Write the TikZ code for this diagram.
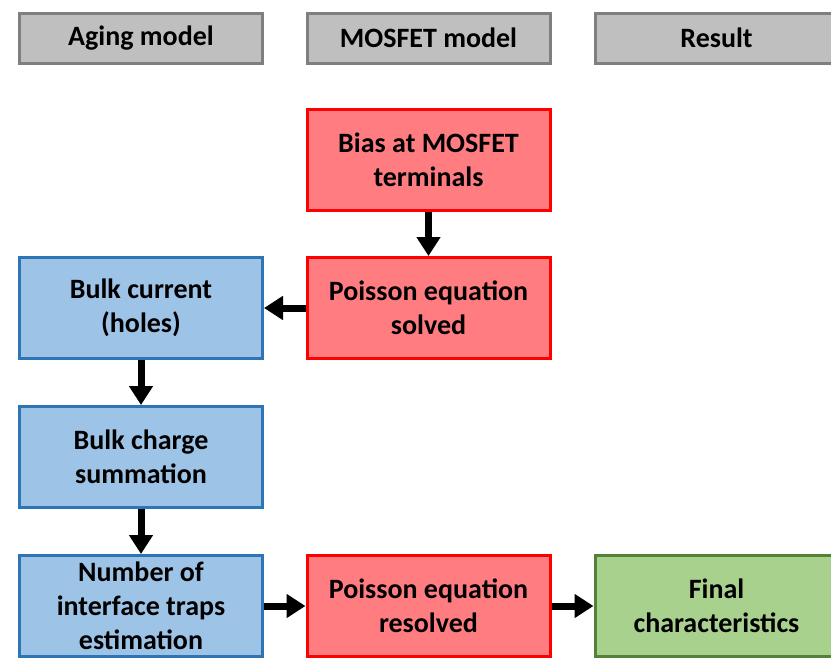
\documentclass[tikz,border=0pt]{standalone}
\usepackage{fontspec}
\setmainfont{Carlito}
\usetikzlibrary{arrows.meta}
\definecolor{hdrfill}{HTML}{BFBFBF}
\definecolor{hdrline}{HTML}{7F7F7F}
\definecolor{redfill}{HTML}{FF7C80}
\definecolor{redline}{HTML}{FF0000}
\definecolor{bluefill}{HTML}{9DC3E6}
\definecolor{blueline}{HTML}{2E75B6}
\definecolor{greenfill}{HTML}{A9D18E}
\definecolor{greenline}{HTML}{538135}
\tikzset{
  box/.style={rectangle, line width=3pt, minimum width=243pt, minimum height=101pt,
    align=center, font=\fontsize{28}{34}\selectfont\bfseries, inner sep=0pt},
  hdr/.style={box, draw=hdrline, fill=hdrfill, minimum height=50pt},
  mosbox/.style={box, draw=redline, fill=redfill},
  agebox/.style={box, draw=blueline, fill=bluefill},
  resbox/.style={box, draw=greenline, fill=greenfill},
  flow/.style={line width=7pt, -{Triangle[width=23pt,length=19pt]}}
}
\begin{document}
\begin{tikzpicture}[x=1pt,y=-1pt]
\useasboundingbox (0,0) rectangle (831,659);
\begin{scope}
\clip (0,0) rectangle (831,659);
% column headers
\node[hdr] (hA) at (141,38) {Aging model};
\node[hdr] (hM) at (428.5,38) {MOSFET model};
\node[hdr] (hR) at (716.5,38) {Result};
% MOSFET model column
\node[mosbox] (bias) at (428.5,160) {Bias at MOSFET\\terminals};
\node[mosbox] (pois) at (428.5,308) {Poisson equation\\solved};
\node[mosbox] (prev) at (428.5,606) {Poisson equation\\resolved};
% aging model column
\node[agebox] (bulk) at (141,308) {Bulk current\\(holes)};
\node[agebox] (charge) at (141,457) {Bulk charge\\summation};
\node[agebox] (traps) at (141,606) {Number of\\interface traps\\estimation};
% result column
\node[resbox] (final) at (716.5,606) {Final\\characteristics};
\end{scope}
% connectors
\draw[flow] (bias.south) -- (pois.north);
\draw[flow] (pois.west) -- (bulk.east);
\draw[flow] (bulk.south) -- (charge.north);
\draw[flow] (charge.south) -- (traps.north);
\draw[flow] (traps.east) -- (prev.west);
\draw[flow] (prev.east) -- (final.west);
\end{tikzpicture}
\end{document}
